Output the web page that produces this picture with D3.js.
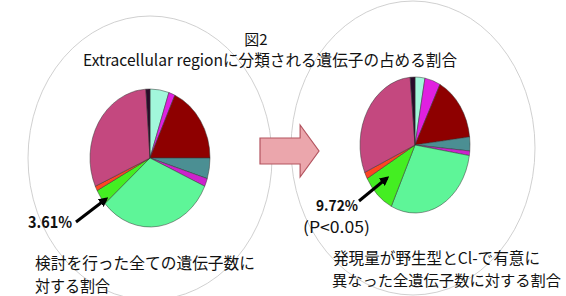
<!DOCTYPE html>
<html>
<head>
<meta charset="utf-8">
<script src="https://cdn.jsdelivr.net/npm/d3@7"></script>
<style>
  body { margin: 0; background: #fff; }
  text { font-family: "Noto Sans CJK JP", "Noto Sans", sans-serif; fill: #111; }
</style>
</head>
<body>
<div id="chart"></div>
<script>
// slice order goes clockwise from 12 o'clock
const categories = ['c1', 'c2', 'c3', 'c4', 'c5', 'c6', 'c7', 'c8', 'c9', 'c10'];
const sliceColors = ['#a2f7db', '#e020e0', '#8e0000', '#4b8f93', '#cc22cc',
                     '#5ef598', '#44ee22', '#ff4422', '#c4487f', '#2a0a2a'];
// % of all genes examined
const allGenes = [5.1, 1.7, 18.2, 4.8, 1.9, 31.8, 3.61, 1.1, 30.6, 1.1];
// % of genes significantly different between WT and Cl-
const sigGenes = [2.9, 4.6, 15.6, 3.3, 1.1, 29.6, 9.72, 1.6, 30.2, 1.4];

const width = 566, height = 296;

const svg = d3.select('#chart').append('svg')
    .attr('width', width)
    .attr('height', height);

const defs = svg.append('defs');
defs.append('marker')
    .attr('id', 'head')
    .attr('viewBox', '0 0 10 10')
    .attr('refX', 7).attr('refY', 5)
    .attr('markerWidth', 3.2).attr('markerHeight', 3.2)
    .attr('orient', 'auto')
    .append('path')
    .attr('d', 'M0,0 L10,5 L0,10 Z')
    .style('fill', '#000');

// big background ellipses
const bigRings = [
    { cx: 150, cy: 158, rx: 122, ry: 142 },
    { cx: 413, cy: 148, rx: 122, ry: 147 }
];
svg.append('g')
    .selectAll('ellipse')
    .data(bigRings)
    .join('ellipse')
    .attr('cx', d => d.cx).attr('cy', d => d.cy)
    .attr('rx', d => d.rx).attr('ry', d => d.ry)
    .style('fill', 'none')
    .style('stroke', '#c4c4c4')
    .style('stroke-width', 0.8);

const pie = d3.pie().sort(null).value(d => d.value);
const arc = d3.arc().innerRadius(0).outerRadius(1);

function drawPie(values, cx, cy, rx, ry) {
    const rows = categories.map((c, i) => ({ cat: c, value: values[i], color: sliceColors[i] }));
    const g = svg.append('g')
        .attr('transform', `translate(${cx},${cy}) scale(${rx},${ry})`);
    g.selectAll('path')
        .data(pie(rows))
        .join('path')
        .attr('d', arc)
        .style('fill', d => d.data.color)
        .style('stroke', '#333')
        .style('stroke-width', 0.5)
        .attr('vector-effect', 'non-scaling-stroke');
}

drawPie(allGenes, 150, 158, 60, 69);
drawPie(sigGenes, 415, 145, 55, 68);

// titles
svg.append('text')
    .attr('x', 256).attr('y', 45)
    .attr('text-anchor', 'middle')
    .style('font-size', '15px')
    .text('図2');

svg.append('text')
    .attr('x', 83).attr('y', 66)
    .attr('textLength', 374)
    .attr('lengthAdjust', 'spacingAndGlyphs')
    .style('font-size', '16px')
    .text('Extracellular regionに分類される遺伝子の占める割合');

// pointer arrows to the bright green slice
const pointers = [
    { x1: 76, y1: 222, x2: 106, y2: 199 },
    { x1: 359, y1: 201, x2: 387, y2: 178 }
];
svg.append('g')
    .selectAll('line')
    .data(pointers)
    .join('line')
    .attr('x1', d => d.x1).attr('y1', d => d.y1)
    .attr('x2', d => d.x2).attr('y2', d => d.y2)
    .style('stroke', '#000')
    .style('stroke-width', 3)
    .attr('marker-end', 'url(#head)');

// labels
const labels = [
    { text: '3.61%', x: 28, y: 228, w: 44, size: 16, weight: 'bold' },
    { text: '9.72%', x: 316, y: 211, w: 42, size: 15, weight: 'bold' },
    { text: '(P<0.05)', x: 303, y: 233, w: 67, size: 16, weight: 'normal' },
    { text: '検討を行った全ての遺伝子数に', x: 35, y: 269, w: 220, size: 16, weight: 'normal' },
    { text: '対する割合', x: 35, y: 292, w: 75, size: 16, weight: 'normal' },
    { text: '発現量が野生型とCl-で有意に', x: 333, y: 264, w: 207, size: 16, weight: 'normal' },
    { text: '異なった全遺伝子数に対する割合', x: 332, y: 286, w: 229, size: 15, weight: 'normal' }
];
svg.append('g')
    .selectAll('text')
    .data(labels)
    .join('text')
    .attr('x', d => d.x).attr('y', d => d.y)
    .attr('textLength', d => d.w)
    .attr('lengthAdjust', 'spacingAndGlyphs')
    .style('font-size', d => d.size + 'px')
    .style('font-weight', d => d.weight)
    .text(d => d.text);

// block arrow between the two pies
const bx = d3.scaleLinear().domain([0, 1]).range([260, 319]);
const by = d3.scaleLinear().domain([0, 1]).range([125, 177]);
const blockPts = [[0, 0.25], [0.68, 0.25], [0.68, 0], [1, 0.5], [0.68, 1], [0.68, 0.75], [0, 0.75]];
svg.append('path')
    .attr('d', d3.line().x(d => bx(d[0])).y(d => by(d[1])).curve(d3.curveLinearClosed)(blockPts))
    .style('fill', '#eba6ac')
    .style('stroke', '#b3545f')
    .style('stroke-width', 1.2);
</script>
</body>
</html>
